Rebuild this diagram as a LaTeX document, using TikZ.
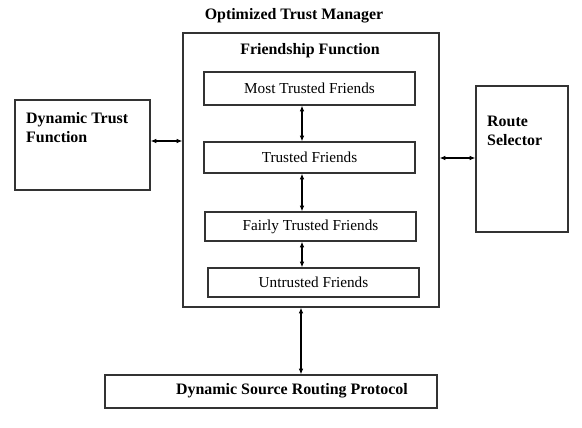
\documentclass[tikz,border=0pt]{standalone}
\usepackage{fontspec}
\setmainfont{Liberation Serif}
\usetikzlibrary{arrows.meta}

\tikzset{
  caja/.style={draw=black!80, line width=0.9pt, inner sep=0pt},
  texto/.style={font=\fontsize{13}{15}\selectfont},
  negrita/.style={font=\fontsize{13.6}{16}\selectfont\bfseries},
  flecha/.style={{Latex[length=5pt,width=4pt]}-{Latex[length=5pt,width=4pt]}, line width=1pt}
}

\begin{document}
\begin{tikzpicture}[x=0.03cm, y=-0.03cm]
  \useasboundingbox (0,0) rectangle (582,428);

  % Gestor de confianza
  \node[caja, minimum width=7.68cm, minimum height=8.22cm] (otm) at (311,170) {};
  \node[negrita] (otmtit) at (294,16) {Optimized Trust Manager};
  \node[negrita] (fftit) at (310,51) {Friendship Function};

  % Niveles de amistad
  \node[caja, texto, minimum width=6.33cm, minimum height=0.99cm] (mtf) at (309.5,88.5) {Most Trusted Friends};
  \node[caja, texto, minimum width=6.33cm, minimum height=0.93cm] (tf) at (309.5,157.5) {Trusted Friends};
  \node[caja, texto, minimum width=6.33cm, minimum height=0.87cm] (ftf) at (310.5,226.5) {Fairly Trusted Friends};
  \node[caja, texto, minimum width=6.33cm, minimum height=0.87cm] (uf) at (313.5,282.5) {Untrusted Friends};

  % Bloques laterales
  \node[caja, minimum width=4.05cm, minimum height=2.7cm] (dtf) at (82.5,145) {};
  \node[negrita, anchor=north west, align=left, inner sep=0pt] (dtftxt) at (26,112) {Dynamic Trust\\Function};
  \node[caja, minimum width=2.76cm, minimum height=4.38cm] (rs) at (522,159) {};
  \node[negrita, anchor=north west, align=left, inner sep=0pt] (rstxt) at (487,116) {Route\\Selector};

  % Protocolo
  \node[caja, minimum width=9.96cm, minimum height=0.99cm] (dsr) at (271,391.5) {};
  \node[negrita] (dsrtxt) at (292,391) {Dynamic Source Routing Protocol};

  % Flechas
  \draw[flecha] (mtf.south -| 302,0) -- (tf.north -| 302,0);
  \draw[flecha] (tf.south -| 302,0) -- (ftf.north -| 302,0);
  \draw[flecha] (ftf.south -| 302,0) -- (uf.north -| 302,0);
  \draw[flecha] (dtf.east |- 0,141) -- (otm.west |- 0,141);
  \draw[flecha] (otm.east |- 0,158) -- (rs.west |- 0,158);
  \draw[flecha] (otm.south -| 301,0) -- (dsr.north -| 301,0);

\end{tikzpicture}
\end{document}
